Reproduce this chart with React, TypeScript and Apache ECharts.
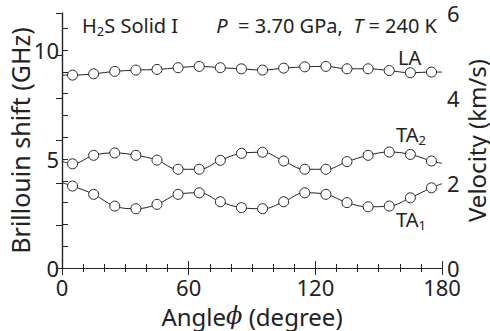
import React, { useEffect, useRef } from "react";
import * as echarts from "echarts";

const angles = [5, 15, 25, 35, 45, 55, 65, 75, 85, 95, 105, 115, 125, 135, 145, 155, 165, 175];
const laValues = [8.85, 8.91, 9.02, 9.08, 9.11, 9.19, 9.25, 9.19, 9.14, 9.08, 9.17, 9.23, 9.25, 9.14, 9.14, 9.06, 8.96, 8.99];
const ta2Values = [4.78, 5.17, 5.28, 5.17, 4.95, 4.53, 4.53, 4.94, 5.26, 5.31, 4.91, 4.53, 4.53, 4.88, 5.17, 5.32, 5.21, 4.91];
const ta1Values = [3.76, 3.38, 2.84, 2.72, 2.92, 3.38, 3.45, 3.04, 2.77, 2.72, 3.04, 3.45, 3.38, 3.0, 2.81, 2.84, 3.22, 3.68];
// curve ends at 0 and 180 degrees
const laEnds = [8.85, 8.99];
const ta2Ends = [4.9, 4.8];
const ta1Ends = [3.91, 3.87];
const xTicks = [0, 60, 120, 180];
const leftLabels = [0, 5, 10];
const rightLabels = [0, 2, 4, 6];

const FONT = "Noto Sans";
const INK = "#222";
const TICK = 22;
const NOTE = 20;

function build(values: number[], ends: number[]) {
  const d: any[] = [{ value: [0, ends[0]], symbol: "none" }];
  angles.forEach((a, i) => d.push([a, values[i]]));
  d.push({ value: [180, ends[1]], symbol: "none" });
  return d;
}

export default function App() {
  const ref = useRef<HTMLDivElement>(null);
  useEffect(() => {
    if (!ref.current) return;
    const chart = echarts.init(ref.current, undefined, { renderer: "svg" });
    const lineSeries = (name: string, values: number[], ends: number[]) => ({
      name,
      type: "line",
      xAxisIndex: 0,
      yAxisIndex: 0,
      smooth: 0.4,
      data: build(values, ends),
      symbol: "circle",
      symbolSize: 10,
      lineStyle: { color: INK, width: 1 },
      itemStyle: { color: "#fff", borderColor: INK, borderWidth: 1 },
      z: 3,
    });
    const sub = { fontSize: 13, padding: [11, 0, 0, 0], fontFamily: FONT, fill: INK };
    chart.setOption({
      animation: false,
      textStyle: { fontFamily: FONT, color: INK },
      grid: { left: 62, right: 48, top: 13, bottom: 63, containLabel: false, outerBoundsMode: "none" },
      xAxis: [
        {
          type: "value",
          min: 0,
          max: 180,
          interval: 60,
          position: "bottom",
          name: "Angle{i|ϕ} (degree)",
          nameLocation: "middle",
          nameMoveOverlap: false,
          nameGap: 37,
          nameTextStyle: {
            fontSize: 24,
            lineHeight: 22,
            fontFamily: FONT,
            color: INK,
            rich: { i: { fontStyle: "italic", fontSize: 24, lineHeight: 22, fontFamily: "DejaVu Serif", color: INK } },
          },
          axisLine: { lineStyle: { color: INK, width: 1.2 } },
          axisTick: { inside: true, length: 7, lineStyle: { color: INK } },
          minorTick: { show: true, splitNumber: 6, length: 4, lineStyle: { color: INK } },
          splitLine: { show: false },
          axisLabel: {
            fontSize: TICK,
            lineHeight: 16,
            color: INK,
            fontFamily: FONT,
            margin: 11,
            formatter: (v: number) => (xTicks.includes(v) ? String(v) : ""),
          },
        },
        {
          type: "value",
          min: 0,
          max: 180,
          interval: 60,
          position: "top",
          axisLine: { show: true, lineStyle: { color: INK, width: 1.2 } },
          axisTick: { inside: true, length: 7, lineStyle: { color: INK } },
          minorTick: { show: true, splitNumber: 6, length: 4, lineStyle: { color: INK } },
          splitLine: { show: false },
          axisLabel: { show: false },
        },
      ],
      yAxis: [
        {
          type: "value",
          min: 0,
          max: 11.7,
          interval: 1,
          position: "left",
          name: "Brillouin shift (GHz)",
          nameLocation: "middle",
          nameMoveOverlap: false,
          nameGap: 30,
          nameTextStyle: { fontSize: 25, lineHeight: 24, fontFamily: FONT, color: INK },
          axisLine: { show: true, lineStyle: { color: INK, width: 1.2 } },
          axisTick: { inside: true, length: 6, lineStyle: { color: INK } },
          splitLine: { show: false },
          axisLabel: {
            fontSize: TICK,
            lineHeight: 16,
            color: INK,
            fontFamily: FONT,
            margin: 3,
            showMaxLabel: false,
            formatter: (v: number) => (leftLabels.includes(v) ? String(v) : ""),
          },
        },
        {
          type: "value",
          min: 0,
          max: 6,
          interval: 1,
          position: "right",
          name: "Velocity (km/s)",
          nameLocation: "middle",
          nameMoveOverlap: false,
          nameGap: 23,
          nameRotate: 90,
          nameTextStyle: { fontSize: 24, lineHeight: 22, fontFamily: FONT, color: INK },
          axisLine: { show: true, lineStyle: { color: INK, width: 1.2 } },
          axisTick: { inside: true, length: 6, lineStyle: { color: INK } },
          splitLine: { show: false },
          axisLabel: {
            fontSize: TICK,
            lineHeight: 16,
            color: INK,
            fontFamily: FONT,
            margin: 5,
            formatter: (v: number) => (rightLabels.includes(v) ? String(v) : ""),
          },
        },
      ],
      graphic: [
        {
          type: "text",
          left: 82,
          top: 15,
          style: {
            text: "H{sub|2}S Solid I",
            fontSize: NOTE,
            fontFamily: FONT,
            fill: INK,
            rich: { sub },
          },
        },
        {
          type: "text",
          right: 53,
          top: 15,
          style: {
            text: "{i|P}  = 3.70 GPa,  {i|T} = 240 K",
            fontSize: NOTE,
            fontFamily: FONT,
            fill: INK,
            rich: { i: { fontStyle: "italic", fontSize: NOTE, fontFamily: FONT, fill: INK } },
          },
        },
        {
          type: "text",
          left: 398,
          top: 47,
          style: { text: "LA", fontSize: NOTE, fontFamily: FONT, fill: INK },
        },
        {
          type: "text",
          left: 396,
          top: 124,
          style: { text: "TA{sub|2}", fontSize: NOTE, fontFamily: FONT, fill: INK, rich: { sub } },
        },
        {
          type: "text",
          left: 396,
          top: 209,
          style: { text: "TA{sub|1}", fontSize: NOTE, fontFamily: FONT, fill: INK, rich: { sub } },
        },
      ],
      series: [
        lineSeries("LA", laValues, laEnds),
        lineSeries("TA2", ta2Values, ta2Ends),
        lineSeries("TA1", ta1Values, ta1Ends),
      ],
    });
    return () => chart.dispose();
  }, []);
  return <div ref={ref} style={{ width: 490, height: 331, position: "absolute", left: 0, top: 0 }} />;
}
